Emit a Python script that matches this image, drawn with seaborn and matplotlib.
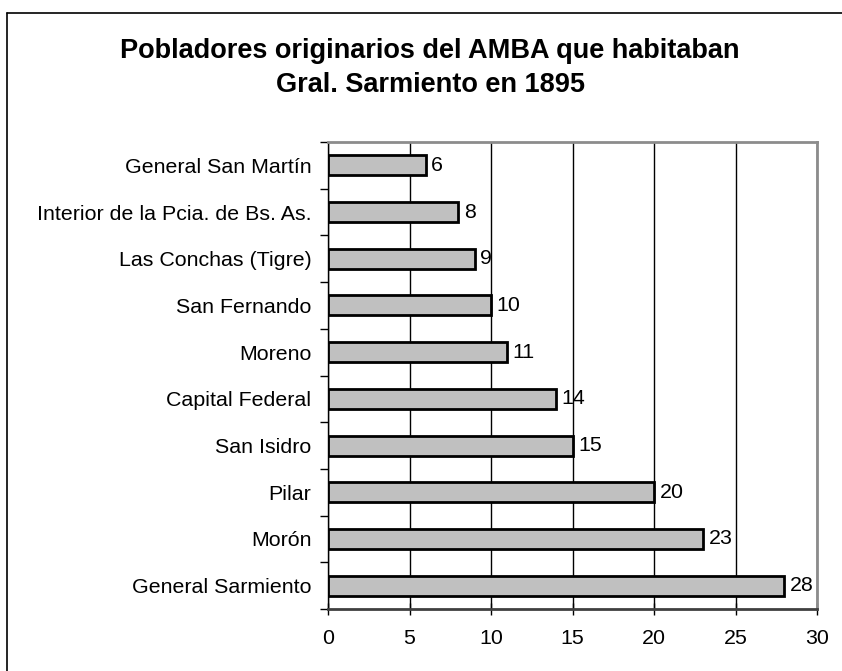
import matplotlib
matplotlib.use('Agg')
import matplotlib.pyplot as plt
from matplotlib.lines import Line2D
from matplotlib.ticker import FixedLocator
import seaborn as sns
import pandas as pd

# data (top to bottom)
lugares = ["General San Martín", "Interior de la Pcia. de Bs. As.", "Las Conchas (Tigre)",
           "San Fernando", "Moreno", "Capital Federal", "San Isidro", "Pilar", "Morón",
           "General Sarmiento"]
pobladores = [6, 8, 9, 10, 11, 14, 15, 20, 23, 28]
xticks = [0, 5, 10, 15, 20, 25, 30]
titulo = ["Pobladores originarios del AMBA que habitaban", "Gral. Sarmiento en 1895"]

sns.set_theme(style="white", rc={"text.color": "black", "xtick.color": "black",
                                 "ytick.color": "black", "axes.labelcolor": "black"})
plt.rcParams['font.family'] = ['Liberation Sans', 'DejaVu Sans']

df = pd.DataFrame({"lugar": lugares, "n": pobladores})

fig = plt.figure(figsize=(8.42, 6.71), dpi=100)
ax = fig.add_axes([328/842, 1 - 609/671, (817-328)/842, (609-142)/671])

sns.barplot(data=df, x="n", y="lugar", order=lugares, orient="h", color="#c0c0c0",
            saturation=1, edgecolor="black", linewidth=2, width=0.43, ax=ax, zorder=3)

fs = 15.4
ax.set_xlim(0, 30)
ax.set_ylim(len(lugares) - 0.5, -0.5)
ax.set_xticks(xticks)
ax.set_xticklabels([str(t) for t in xticks], fontsize=fs)
ax.tick_params(axis='x', direction='inout', length=9, width=1, color='black', pad=10,
               bottom=True)
ax.tick_params(axis='y', which='major', length=0, pad=12, labelsize=fs)
ax.yaxis.set_minor_locator(FixedLocator([i - 0.5 for i in range(len(lugares) + 1)]))
ax.tick_params(axis='y', which='minor', direction='out', length=6, width=1, color='black',
               left=True)
ax.set_xlabel("")
ax.set_ylabel("")
ax.xaxis.grid(True, color='black', linewidth=1)
ax.set_axisbelow(True)
for s in ['top', 'right']:
    ax.spines[s].set_color('#8c8c8c')
    ax.spines[s].set_linewidth(2)
ax.spines['left'].set_color('black')
ax.spines['left'].set_linewidth(1)
ax.spines['bottom'].set_color('#404040')
ax.spines['bottom'].set_linewidth(2)

for c in ax.containers:
    ax.bar_label(c, labels=[str(v) for v in pobladores], padding=4, fontsize=fs)

# title, two lines placed on their baselines
for linea, yb in zip(titulo, [58, 92]):
    fig.text(430/842, 1 - yb/671, linea, ha='center', va='baseline', fontsize=19.5,
             fontweight='bold')

# outer frame (left and top border only, as cropped in the reference)
fig.add_artist(Line2D([7/842, 7/842], [0, 1 - 13/671], transform=fig.transFigure,
                      color='black', linewidth=1.2))
fig.add_artist(Line2D([7/842, 1], [1 - 13/671, 1 - 13/671], transform=fig.transFigure,
                      color='black', linewidth=1.2))

fig.savefig("out.png", dpi=100)
